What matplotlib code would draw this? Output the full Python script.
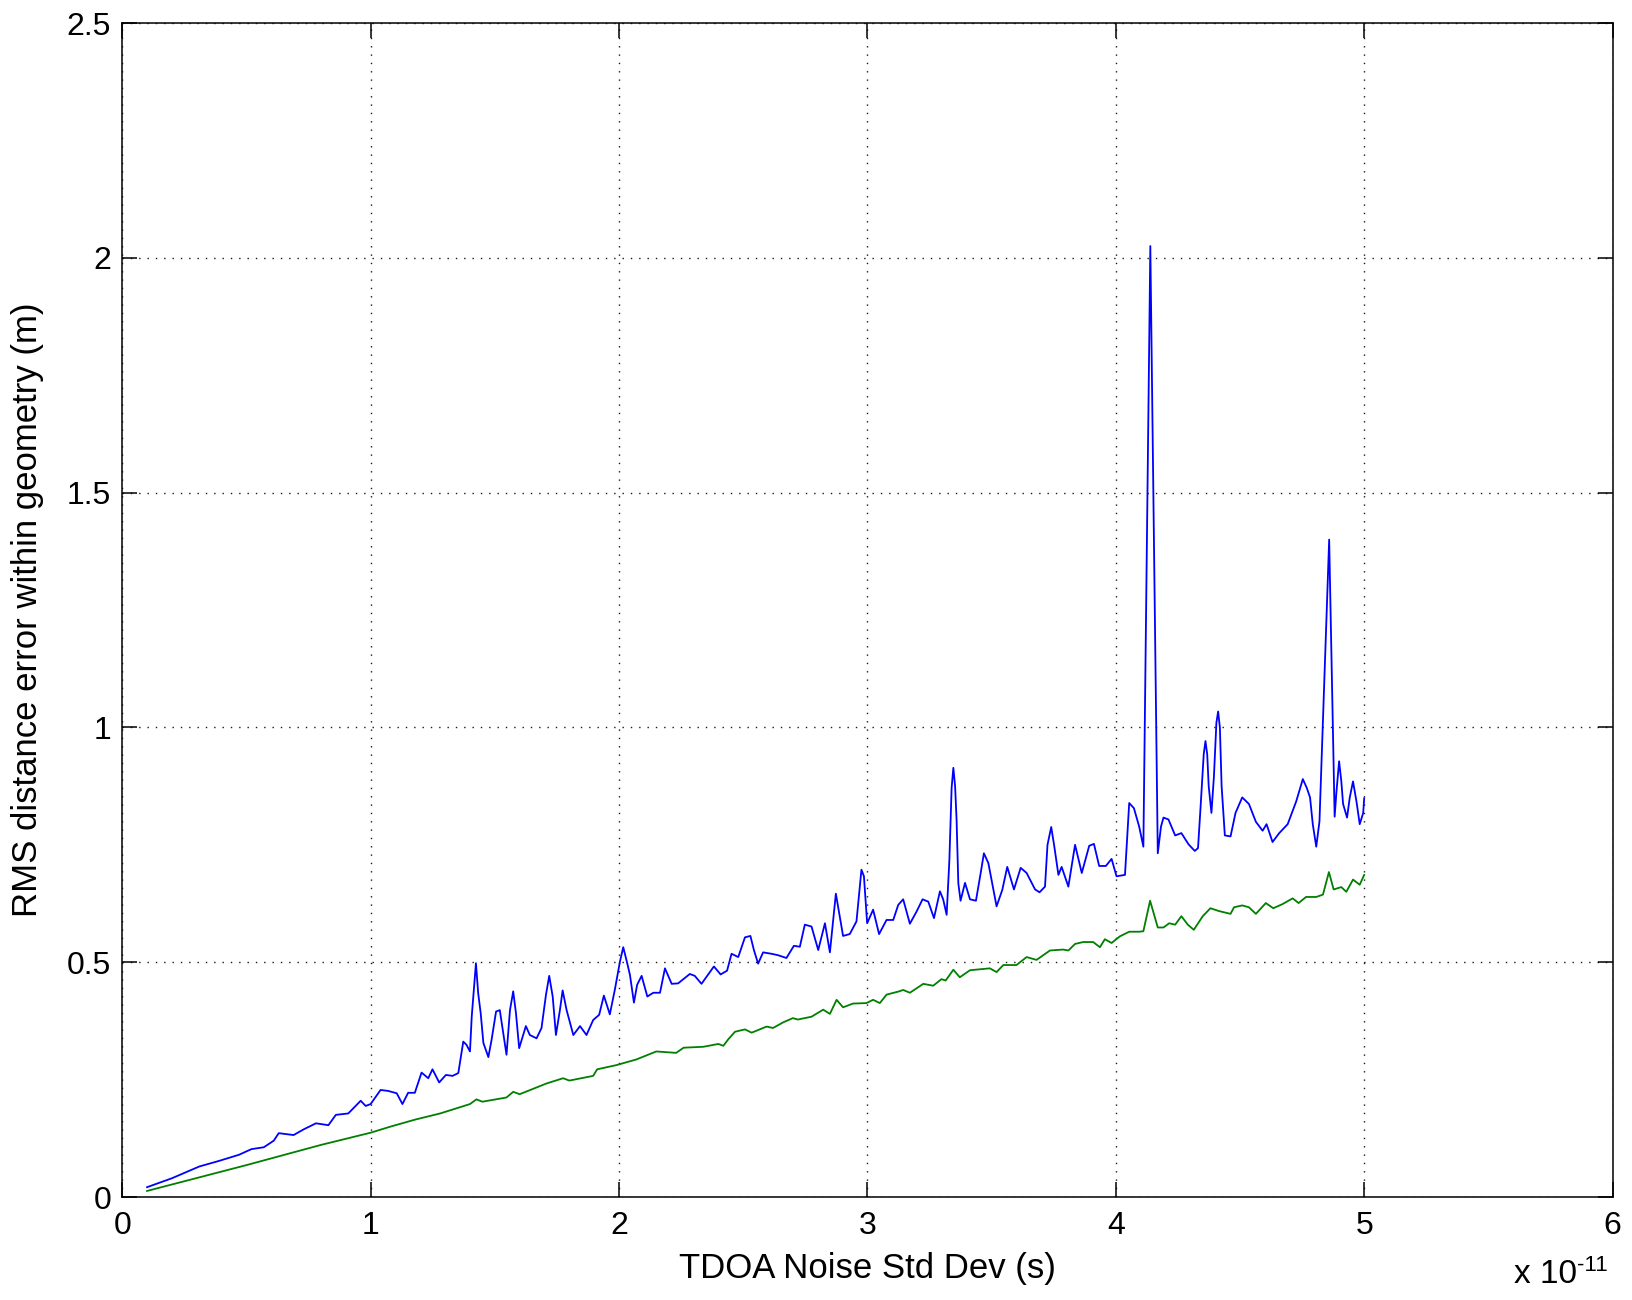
import numpy as np
import matplotlib
matplotlib.use('Agg')
import matplotlib.pyplot as plt
from matplotlib.ticker import FuncFormatter

plt.rcParams['font.family'] = ['Liberation Sans', 'DejaVu Sans']

# TDOA noise std dev (units of 1e-11 s) and RMS error (m), curve 1 (blue)
noise_blue = [0.10, 0.20, 0.31, 0.39, 0.47, 0.52, 0.57, 0.61, 0.63, 0.69, 0.73, 0.78, 0.83, 0.86, 0.91, 0.96, 0.98, 1.00, 1.04, 1.07,
              1.105, 1.128, 1.151, 1.178, 1.205, 1.232, 1.249, 1.276, 1.303, 1.33, 1.353, 1.373, 1.386, 1.40, 1.407, 1.424, 1.433, 1.443, 1.454, 1.474,
              1.487, 1.505, 1.52, 1.534, 1.547, 1.561, 1.574, 1.585, 1.598, 1.625, 1.641, 1.668, 1.688, 1.706, 1.719, 1.733, 1.746, 1.762, 1.773, 1.789,
              1.816, 1.843, 1.869, 1.896, 1.92, 1.939, 1.963, 1.983, 2.004, 2.017, 2.033, 2.044, 2.06, 2.073, 2.091, 2.114, 2.138, 2.165, 2.185, 2.212,
              2.238, 2.285, 2.305, 2.332, 2.382, 2.409, 2.435, 2.453, 2.48, 2.507, 2.529, 2.543, 2.56, 2.58, 2.614, 2.64, 2.674, 2.704, 2.728, 2.748,
              2.775, 2.802, 2.829, 2.849, 2.873, 2.902, 2.929, 2.956, 2.976, 2.986, 2.999, 3.023, 3.047, 3.077, 3.104, 3.124, 3.144, 3.171, 3.198, 3.222,
              3.245, 3.268, 3.292, 3.305, 3.319, 3.33, 3.339, 3.346, 3.353, 3.359, 3.366, 3.375, 3.393, 3.413, 3.437, 3.456, 3.469, 3.487, 3.52, 3.543,
              3.563, 3.59, 3.617, 3.641, 3.675, 3.693, 3.715, 3.725, 3.74, 3.752, 3.769, 3.782, 3.809, 3.836, 3.863, 3.893, 3.912, 3.933, 3.96, 3.983,
              4.003, 4.037, 4.046, 4.054, 4.073, 4.094, 4.111, 4.139, 4.169, 4.182, 4.192, 4.212, 4.239, 4.264, 4.293, 4.318, 4.331, 4.341, 4.354, 4.361,
              4.368, 4.374, 4.385, 4.395, 4.405, 4.412, 4.419, 4.426, 4.439, 4.462, 4.482, 4.509, 4.536, 4.564, 4.591, 4.607, 4.631, 4.658, 4.692, 4.726,
              4.753, 4.769, 4.782, 4.793, 4.807, 4.82, 4.859, 4.881, 4.888, 4.899, 4.908, 4.915, 4.931, 4.942, 4.955, 4.969, 4.982, 4.996, 5.00]
rms_blue = [0.021, 0.040, 0.065, 0.077, 0.090, 0.102, 0.106, 0.120, 0.136, 0.132, 0.144, 0.157, 0.153, 0.175, 0.178, 0.205, 0.194, 0.198, 0.228, 0.226,
            0.221, 0.198, 0.222, 0.222, 0.265, 0.253, 0.272, 0.244, 0.260, 0.258, 0.264, 0.331, 0.324, 0.310, 0.384, 0.498, 0.434, 0.392, 0.328, 0.298,
            0.335, 0.395, 0.398, 0.349, 0.303, 0.398, 0.438, 0.392, 0.317, 0.364, 0.345, 0.338, 0.360, 0.431, 0.471, 0.427, 0.345, 0.398, 0.440, 0.398,
            0.345, 0.364, 0.345, 0.377, 0.388, 0.429, 0.389, 0.441, 0.502, 0.532, 0.498, 0.473, 0.414, 0.452, 0.471, 0.427, 0.435, 0.435, 0.487, 0.454,
            0.455, 0.475, 0.471, 0.454, 0.491, 0.474, 0.482, 0.518, 0.511, 0.553, 0.556, 0.526, 0.497, 0.521, 0.518, 0.515, 0.509, 0.535, 0.533, 0.580,
            0.576, 0.526, 0.583, 0.521, 0.646, 0.556, 0.560, 0.587, 0.697, 0.683, 0.583, 0.612, 0.560, 0.590, 0.590, 0.622, 0.634, 0.582, 0.608, 0.634,
            0.629, 0.594, 0.651, 0.634, 0.601, 0.718, 0.871, 0.914, 0.875, 0.803, 0.668, 0.631, 0.669, 0.634, 0.631, 0.690, 0.732, 0.711, 0.619, 0.654,
            0.703, 0.655, 0.701, 0.690, 0.655, 0.649, 0.661, 0.750, 0.788, 0.748, 0.686, 0.703, 0.661, 0.750, 0.690, 0.748, 0.752, 0.705, 0.705, 0.720,
            0.683, 0.686, 0.768, 0.839, 0.828, 0.789, 0.746, 2.025, 0.732, 0.789, 0.808, 0.804, 0.770, 0.775, 0.751, 0.737, 0.743, 0.828, 0.943, 0.971,
            0.943, 0.875, 0.818, 0.895, 1.010, 1.034, 1.000, 0.875, 0.770, 0.768, 0.818, 0.851, 0.837, 0.799, 0.780, 0.794, 0.756, 0.775, 0.794, 0.842,
            0.890, 0.871, 0.851, 0.794, 0.746, 0.800, 1.400, 0.810, 0.861, 0.928, 0.885, 0.837, 0.808, 0.851, 0.885, 0.842, 0.794, 0.818, 0.849]

# curve 2 (green)
noise_green = [0.10, 0.50, 0.80, 1.00, 1.08, 1.18, 1.28, 1.40, 1.426, 1.45, 1.547, 1.574, 1.60, 1.709, 1.775, 1.80, 1.896, 1.912, 1.99, 2.07,
               2.15, 2.23, 2.26, 2.34, 2.40, 2.42, 2.44, 2.467, 2.507, 2.534, 2.594, 2.62, 2.661, 2.70, 2.72, 2.775, 2.822, 2.849, 2.876, 2.902,
               2.942, 2.996, 3.023, 3.05, 3.077, 3.128, 3.144, 3.171, 3.225, 3.265, 3.298, 3.315, 3.346, 3.372, 3.413, 3.493, 3.52, 3.547, 3.60, 3.641,
               3.681, 3.735, 3.788, 3.809, 3.836, 3.869, 3.909, 3.936, 3.956, 3.983, 4.016, 4.054, 4.094, 4.111, 4.138, 4.169, 4.192, 4.215, 4.239, 4.264,
               4.29, 4.314, 4.35, 4.381, 4.415, 4.462, 4.476, 4.509, 4.536, 4.564, 4.604, 4.634, 4.672, 4.712, 4.736, 4.766, 4.807, 4.834, 4.858, 4.877,
               4.908, 4.928, 4.955, 4.982, 5.00]
rms_green = [0.013, 0.068, 0.111, 0.137, 0.150, 0.165, 0.178, 0.198, 0.208, 0.203, 0.212, 0.224, 0.219, 0.242, 0.253, 0.248, 0.258, 0.272, 0.281, 0.293,
             0.310, 0.307, 0.318, 0.320, 0.326, 0.322, 0.336, 0.352, 0.357, 0.350, 0.363, 0.360, 0.372, 0.381, 0.378, 0.384, 0.399, 0.390, 0.420, 0.404,
             0.412, 0.413, 0.420, 0.413, 0.431, 0.438, 0.441, 0.435, 0.454, 0.450, 0.464, 0.461, 0.484, 0.468, 0.483, 0.487, 0.479, 0.494, 0.494, 0.511,
             0.505, 0.525, 0.527, 0.525, 0.539, 0.543, 0.543, 0.532, 0.549, 0.541, 0.555, 0.565, 0.565, 0.566, 0.631, 0.574, 0.574, 0.583, 0.580, 0.598,
             0.580, 0.569, 0.598, 0.615, 0.609, 0.603, 0.617, 0.621, 0.617, 0.603, 0.626, 0.615, 0.624, 0.636, 0.626, 0.639, 0.639, 0.644, 0.692, 0.655,
             0.660, 0.650, 0.676, 0.665, 0.686]

x_ticks = [0, 1, 2, 3, 4, 5, 6]
y_ticks = [0, 0.5, 1, 1.5, 2, 2.5]

fig = plt.figure(figsize=(16.32, 13.0), dpi=100)
ax = fig.add_axes([0.0749, 0.0792, 0.9132, 0.9031])

ax.plot(np.array(noise_blue) * 1e-11, rms_blue, color=(0, 0, 1), linewidth=1.3)
ax.plot(np.array(noise_green) * 1e-11, rms_green, color=(0, 0.5, 0), linewidth=1.3)

ax.set_xlim(0, 6e-11)
ax.set_ylim(0, 2.5)
ax.set_xticks(np.array(x_ticks) * 1e-11)
ax.xaxis.set_major_formatter(FuncFormatter(lambda v, p: '%g' % round(v * 1e11, 6)))
ax.set_yticks(y_ticks)
ax.yaxis.set_major_formatter(FuncFormatter(lambda v, p: '%g' % v))

ax.grid(True, linestyle=(0, (1, 5)), color='0.1', linewidth=1.0)
for s in ax.spines.values():
    s.set_linewidth(1.1)
ax.tick_params(direction='in', length=11, width=1.1, top=True, right=True, labelsize=23)
ax.tick_params(axis='x', pad=10)
ax.tick_params(axis='y', pad=8)

ax.set_xlabel('TDOA Noise Std Dev (s)', fontsize=25)
ax.set_ylabel('RMS distance error within geometry (m)', fontsize=25)
ax.xaxis.set_label_coords(0.5, -0.0605)
ax.xaxis.label.set_va('center')
ax.yaxis.set_label_coords(-0.0633, 0.5)
ax.yaxis.label.set_va('center')

# axis exponent, written out like the old matlab style
fig.text(0.9277, 0.0131, 'x 10', fontsize=24, ha='left', va='baseline')
fig.text(0.9853, 0.0225, '-11', fontsize=16, ha='right', va='baseline')

fig.savefig('out.png', dpi=100)
